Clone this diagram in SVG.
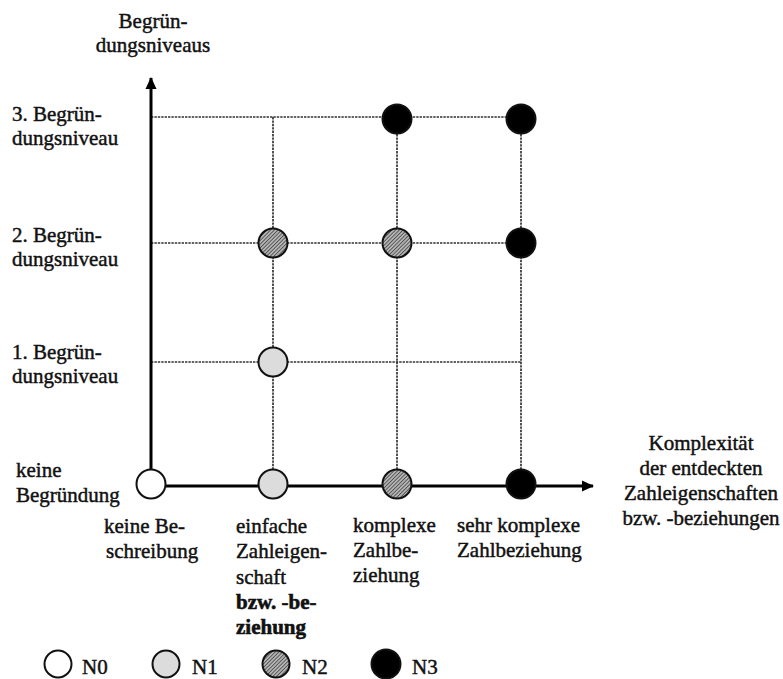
<svg xmlns="http://www.w3.org/2000/svg" width="783" height="679" viewBox="0 0 783 679">
  <defs>
    <!-- diagonal hatching for level N2 -->
    <pattern id="hatch" patternUnits="userSpaceOnUse" width="2.6" height="2.6" patternTransform="rotate(45)">
      <rect width="2.6" height="2.6" fill="#b4b4b4"/>
      <line x1="0" y1="0" x2="0" y2="2.6" stroke="#222" stroke-width="1.2"/>
    </pattern>
    <marker id="arrow" viewBox="0 0 12 12" refX="11" refY="6" markerWidth="12" markerHeight="12" markerUnits="userSpaceOnUse" orient="auto">
      <path d="M0,0.5 L12,6 L0,11.5 Z" fill="#000"/>
    </marker>
  </defs>
  <style>
    text { font-family: "Liberation Serif", "DejaVu Serif", serif; font-size: 21px; fill: #111; stroke: #111; stroke-width: 0.45; }
    .b { font-weight: bold; stroke-width: 0.6; }
    .mid { text-anchor: middle; }
    .grid { stroke: #333; stroke-width: 1.7; stroke-dasharray: 2.4 1; fill: none; }
    .axis { stroke: #000; stroke-width: 3; fill: none; }
    .pt { stroke: #111; stroke-width: 2; }
    .n0 { fill: #fff; }
    .n1 { fill: #dcdcdc; }
    .n2 { fill: url(#hatch); }
    .n3 { fill: #000; }
  </style>
  <rect width="783" height="679" fill="#fff"/>

  <!-- grid lines and axes -->
  <g id="connectors">
    <line class="grid" x1="151" y1="117" x2="521" y2="117"/>
    <line class="grid" x1="151" y1="243" x2="521" y2="243"/>
    <line class="grid" x1="151" y1="362" x2="521" y2="362"/>
    <line class="grid" x1="273" y1="117" x2="273" y2="484"/>
    <line class="grid" x1="397" y1="117" x2="397" y2="484"/>
    <line class="grid" x1="521" y1="117" x2="521" y2="484"/>
    <line class="axis" x1="151" y1="470" x2="151" y2="78" marker-end="url(#arrow)"/>
    <line class="axis" x1="165" y1="486" x2="593" y2="486" marker-end="url(#arrow)"/>
  </g>

  <!-- axis titles -->
  <g id="y-title" font-family="Liberation Serif, serif">
    <text class="mid" x="153" y="28">Begrün-</text>
    <text class="mid" x="153" y="52">dungsniveaus</text>
  </g>
  <g id="x-title">
    <text class="mid" x="701" y="450">Komplexität</text>
    <text class="mid" x="701" y="475">der entdeckten</text>
    <text class="mid" x="701" y="500">Zahleigenschaften</text>
    <text class="mid" x="701" y="525">bzw. -beziehungen</text>
  </g>

  <!-- row labels -->
  <g id="row-3"><text x="12" y="121">3. Begrün-</text><text x="12" y="145">dungsniveau</text></g>
  <g id="row-2"><text x="12" y="242">2. Begrün-</text><text x="12" y="266">dungsniveau</text></g>
  <g id="row-1"><text x="12" y="359">1. Begrün-</text><text x="12" y="383">dungsniveau</text></g>
  <g id="row-0"><text x="16" y="477">keine</text><text x="16" y="502">Begründung</text></g>

  <!-- column labels -->
  <g id="col-0"><text x="104" y="533">keine Be-</text><text x="106" y="558">schreibung</text></g>
  <g id="col-1">
    <text x="236" y="533">einfache</text>
    <text x="236" y="558">Zahleigen-</text>
    <text x="236" y="584">schaft</text>
    <text class="b" x="236" y="609">bzw. -be-</text>
    <text class="b" x="236" y="634">ziehung</text>
  </g>
  <g id="col-2"><text x="353" y="532">komplexe</text><text x="353" y="557">Zahlbe-</text><text x="353" y="582">ziehung</text></g>
  <g id="col-3"><text x="457" y="532">sehr komplexe</text><text x="457" y="557">Zahlbeziehung</text></g>

  <!-- data points -->
  <g id="p-0-0"><circle class="pt n0" cx="151" cy="484" r="14.5"/></g>
  <g id="p-1-0"><circle class="pt n1" cx="273" cy="484" r="14.5"/></g>
  <g id="p-2-0"><circle class="pt n2" cx="397" cy="484" r="14.5"/></g>
  <g id="p-3-0"><circle class="pt n3" cx="521" cy="484" r="14.5"/></g>
  <g id="p-1-1"><circle class="pt n1" cx="273" cy="362" r="14.5"/></g>
  <g id="p-1-2"><circle class="pt n2" cx="273" cy="243" r="14.5"/></g>
  <g id="p-2-2"><circle class="pt n2" cx="397" cy="243" r="14.5"/></g>
  <g id="p-3-2"><circle class="pt n3" cx="521" cy="243" r="14.5"/></g>
  <g id="p-2-3"><circle class="pt n3" cx="397" cy="119" r="14.5"/></g>
  <g id="p-3-3"><circle class="pt n3" cx="521" cy="119" r="14.5"/></g>

  <!-- legend -->
  <g id="legend-n0"><circle class="pt n0" cx="58" cy="664" r="13.5"/><text x="82" y="674">N0</text></g>
  <g id="legend-n1"><circle class="pt n1" cx="166" cy="664" r="13.5"/><text x="192" y="674">N1</text></g>
  <g id="legend-n2"><circle class="pt n2" cx="276" cy="664" r="13.5"/><text x="302" y="674">N2</text></g>
  <g id="legend-n3"><circle class="pt n3" cx="386" cy="664" r="14.5"/><text x="412" y="674">N3</text></g>
</svg>
